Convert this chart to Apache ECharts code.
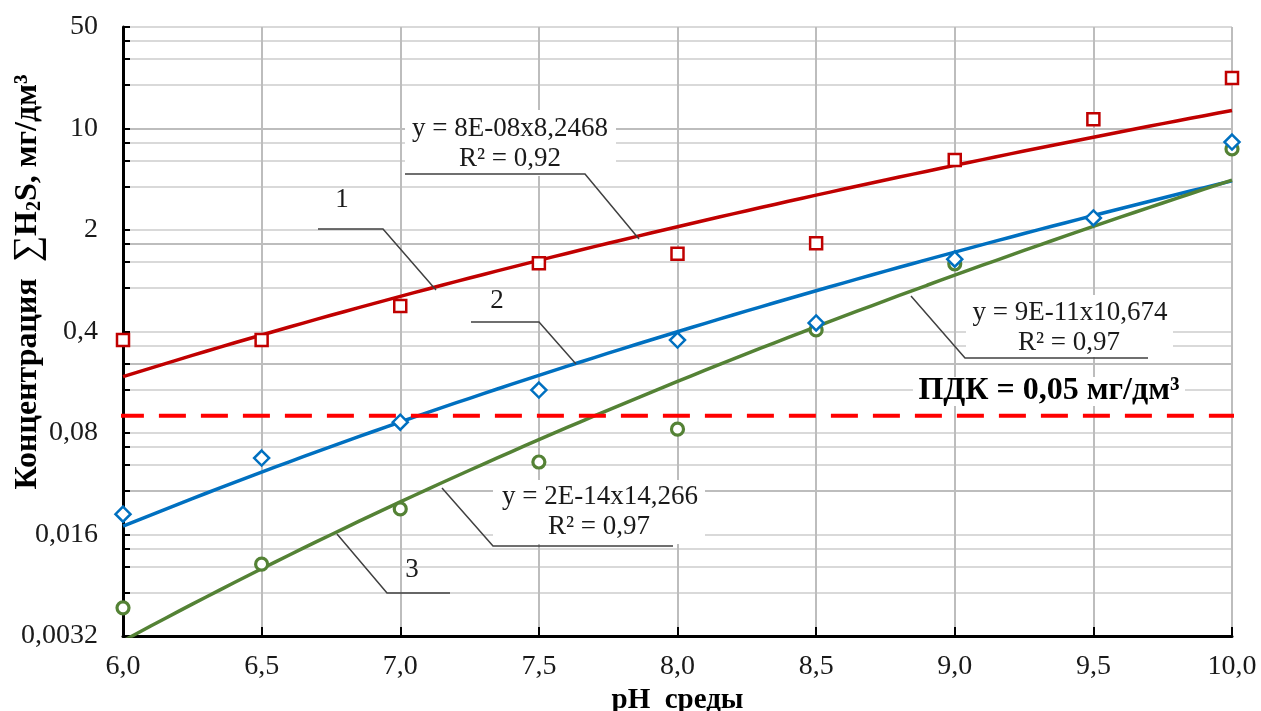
<!DOCTYPE html>
<html><head><meta charset="utf-8">
<script src="https://cdn.jsdelivr.net/npm/echarts@6/dist/echarts.min.js"></script>
<style>html,body{margin:0;padding:0;background:#fff}#c{width:1261px;height:711px}</style>
</head><body><div id="c"></div>
<script>
// ---- data ----
const phValues = [6.0, 6.5, 7.0, 7.5, 8.0, 8.5, 9.0, 9.5, 10.0];
const series1 = [0.35, 0.35, 0.6, 1.18, 1.37, 1.62, 6.07, 11.6, 22.3];
const series2 = [0.0221, 0.0538, 0.095, 0.158, 0.349, 0.458, 1.26, 2.42, 8.06];
const series3 = [0.005, 0.01, 0.024, 0.0505, 0.085, 0.41, 1.17, null, 7.23];
const pdkValue = 0.105;
const pdkXRange = [5.978, 10.04];
const yMajorTicks = [0.0032, 0.016, 0.08, 0.4, 2, 10, 50];
const yTickLabels = ['0,0032', '0,016', '0,08', '0,4', '2', '10', '50'];
const yAllTicks = [0.0032, 0.0064, 0.0096, 0.0128, 0.016, 0.032, 0.048, 0.064, 0.08,
  0.16, 0.24, 0.32, 0.4, 0.8, 1.2, 1.6, 2, 4, 6, 8, 10, 20, 30, 40, 50];
const eqTexts = [['y = 8E-08x8,2468', 'R² = 0,92'], ['y = 9E-11x10,674', 'R² = 0,97'], ['y = 2E-14x14,266', 'R² = 0,97']];
const pdkText = 'ПДК = 0,05 мг/дм³';
const yTitle = '{b|Концентрация  }{m|∑}{b|H}{s|2}{b|S, мг/дм³}';
const xTitle = 'pH  среды';

// ---- helpers ----
const FONT = '"Liberation Serif", "Times New Roman", serif';
function pairs(ys) { const out = []; ys.forEach((y, i) => { if (y != null) out.push([phValues[i], y]); }); return out; }
function powerFit(ys) {
  let n = 0, sx = 0, sy = 0, sxx = 0, sxy = 0;
  ys.forEach((y, i) => { if (y == null) return; const lx = Math.log(phValues[i]), ly = Math.log(y); n++; sx += lx; sy += ly; sxx += lx * lx; sxy += lx * ly; });
  const b = (n * sxy - sx * sy) / (n * sxx - sx * sx);
  const a = Math.exp((sy - b * sx) / n);
  return { a, b };
}
function trendCurve(ys) {
  const f = powerFit(ys); const pts = [];
  const x0 = phValues[0], x1 = phValues[phValues.length - 1];
  const steps = 80;
  for (let k = 0; k <= steps; k++) { const x = x0 + (x1 - x0) * k / steps; pts.push([x, f.a * Math.pow(x, f.b)]); }
  return pts;
}
function yLabel(v) {
  let best = 0, bd = Infinity;
  yMajorTicks.forEach((t, i) => { const d = Math.abs(Math.log(v / t)); if (d < bd) { bd = d; best = i; } });
  return yTickLabels[best];
}

const colors = ['#c00000', '#0070c0', '#548235'];
const major = '#bdbdbd', minor = '#d9d9d9';

const chart = echarts.init(document.getElementById('c'), null, { renderer: 'canvas' });

const lead = (pts) => ({ type: 'polyline', z: 5, shape: { points: pts }, style: { stroke: '#404040', lineWidth: 1.5, fill: null } });
const txt = (x, y, t, size, bold) => ({ type: 'text', z: 5, x: x, y: y, style: { text: t, font: (bold ? 'bold ' : '') + size + 'px ' + FONT, fill: bold ? '#000' : '#1a1a1a', align: 'center', verticalAlign: 'middle' } });
const box = (x, y, w, h) => ({ type: 'rect', z: 1, shape: { x: x, y: y, width: w, height: h }, style: { fill: '#fff' } });

chart.setOption({
  animation: false,
  backgroundColor: '#fff',
  grid: { left: 123, right: 29, top: 27, bottom: 75, containLabel: false, outerBoundsMode: 'none' },
  xAxis: {
    type: 'value', min: 6, max: 10, interval: 0.5,
    axisLine: { onZero: false, lineStyle: { color: '#000', width: 3 } },
    axisTick: { inside: true, length: 9, lineStyle: { color: '#000', width: 2 } },
    axisLabel: { formatter: v => v.toFixed(1).replace('.', ','), fontFamily: FONT, fontSize: 28, color: '#1a1a1a', margin: 17 },
    splitLine: { show: true, lineStyle: { color: major, width: 2 } },
    name: xTitle, nameLocation: 'middle', nameGap: 47,
    nameTextStyle: { fontFamily: FONT, fontSize: 29, fontWeight: 'bold', color: '#000' }
  },
  yAxis: {
    type: 'log', logBase: 5, min: 0.0032, max: 50, position: 'left',
    axisLine: { show: true, onZero: false, lineStyle: { color: '#000', width: 3 } },
    axisTick: { show: true, inside: true, length: 7, customValues: yAllTicks, lineStyle: { color: '#000', width: 2 } },
    axisLabel: { customValues: yMajorTicks, formatter: v => yLabel(v), fontFamily: FONT, fontSize: 28, color: '#1a1a1a', margin: 25 },
    splitLine: { show: true, lineStyle: { color: [major, minor, minor, minor, minor], width: 2 } }
  },
  series: [
    { name: 'trend1', type: 'line', data: trendCurve(series1), showSymbol: false, symbol: 'none', lineStyle: { color: colors[0], width: 3.5 }, z: 2, silent: true },
    { name: 'trend2', type: 'line', data: trendCurve(series2), showSymbol: false, symbol: 'none', lineStyle: { color: colors[1], width: 3.5 }, z: 2, silent: true },
    { name: 'trend3', type: 'line', data: trendCurve(series3), showSymbol: false, symbol: 'none', lineStyle: { color: colors[2], width: 3.5 }, z: 2, silent: true },
    { name: 'ПДК', type: 'line', data: [[pdkXRange[0], pdkValue], [pdkXRange[1], pdkValue]], clip: false, symbol: 'none', lineStyle: { color: '#ff0000', width: 4, type: [27, 15] }, z: 3, silent: true },
    { name: '3', type: 'scatter', data: pairs(series3), symbol: 'circle', symbolSize: 12, itemStyle: { color: '#fff', borderColor: colors[2], borderWidth: 3.2, opacity: 1 }, z: 4 },
    { name: '2', type: 'scatter', data: pairs(series2), symbol: 'diamond', symbolSize: 15, itemStyle: { color: '#fff', borderColor: colors[1], borderWidth: 2.5, opacity: 1 }, z: 4 },
    { name: '1', type: 'scatter', data: pairs(series1), symbol: 'rect', symbolSize: 12, itemStyle: { color: '#fff', borderColor: colors[0], borderWidth: 2.5, opacity: 1 }, z: 4 }
  ],
  graphic: [
    {
      type: 'text', z: 5, x: 28, y: 282, rotation: Math.PI / 2,
      style: {
        text: yTitle, align: 'center', verticalAlign: 'middle',
        rich: {
          b: { fontFamily: FONT, fontSize: 32, fontWeight: 'bold', fill: '#000', lineHeight: 34 },
          m: { fontFamily: FONT, fontSize: 37, fontWeight: 'normal', fill: '#000', lineHeight: 34 },
          s: { fontFamily: FONT, fontSize: 20, fontWeight: 'bold', fill: '#000', verticalAlign: 'bottom', lineHeight: 34 }
        }
      }
    },
    box(405, 110, 211, 66), txt(510, 129, eqTexts[0][0], 27), txt(510, 159, eqTexts[0][1], 27),
    lead([[405, 174], [585, 174], [639, 239]]),
    txt(342, 200, '1', 27), lead([[318, 229], [383, 229], [436, 290]]),
    txt(497, 301, '2', 27), lead([[471, 322], [539, 322], [576, 364]]),
    box(966, 295, 207, 62), txt(1070, 313, eqTexts[1][0], 27), txt(1069, 343, eqTexts[1][1], 27),
    lead([[911, 296], [965, 358], [1148, 358]]),
    box(913, 377, 272, 29), txt(1049, 391, pdkText, 32, true),
    box(493, 480, 212, 64), txt(600, 497, eqTexts[2][0], 27), txt(599, 527, eqTexts[2][1], 27),
    lead([[442, 488], [493, 546], [673, 546]]),
    txt(412, 570, '3', 27), lead([[337, 534], [387, 593], [450, 593]])
  ]
});
</script></body></html>
